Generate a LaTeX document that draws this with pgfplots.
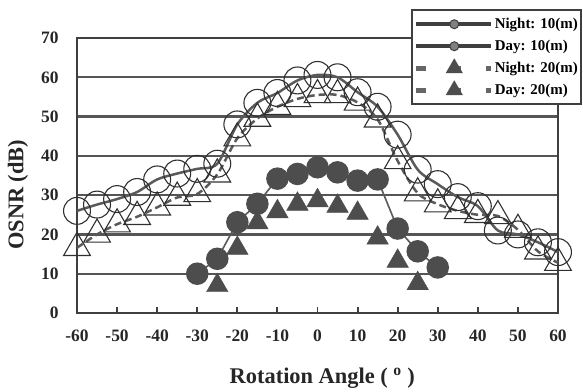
\documentclass[border=0pt]{standalone}
\usepackage{fontspec}
\setmainfont{Liberation Serif}
\usepackage{pgfplots}
\pgfplotsset{compat=1.18}
\definecolor{gridc}{HTML}{555555}
\definecolor{framec}{HTML}{3F3F3F}
\definecolor{fillg}{HTML}{4D4D4D}
\definecolor{lineg}{HTML}{5A5A5A}
\definecolor{edgec}{HTML}{303030}
\begin{document}
\begin{tikzpicture}
\begin{axis}[
  scale only axis, width=481bp, height=275bp,
  xmin=-60, xmax=60, ymin=0, ymax=70,
  xtick={-60,-50,...,60}, ytick={0,10,...,70},
  xtick pos=bottom,
  tick align=inside,
  major tick length=6bp,
  x tick style={line width=2pt, color=framec},
  y tick style={draw=none},
  ymajorgrids, grid style={line width=2.2pt, color=gridc},
  axis line style={line width=2.6pt, color=framec},
  /pgf/number format/assume math mode=true,
  ticklabel style={font=\bfseries\fontsize{17.5}{17.5}\selectfont, color=black!85},
  xticklabel style={yshift=-13bp},
  yticklabel style={xshift=-15bp},
  xlabel={Rotation Angle ( \textsuperscript{o} )},
  ylabel={OSNR (dB)},
  label style={font=\bfseries\fontsize{22.5}{22.5}\selectfont, color=black!85},
  xlabel style={at={(axis description cs:0.51,0)}, anchor=center, yshift=-65bp},
  ylabel style={at={(axis description cs:-0.1227,0.43)}, anchor=center},
  legend image code/.code={\draw[mark repeat=2,mark phase=2,#1] plot coordinates {(0bp,0bp) (38bp,0bp) (75bp,0bp)};},
  legend cell align=left,
  legend style={at={(1.05,1.1055)}, anchor=north east, draw=framec, line width=2.5bp, fill=white,
    font=\bfseries\fontsize{15}{15}\selectfont, inner xsep=2bp, inner ysep=3bp, row sep=0bp,
    nodes={inner xsep=1bp, inner ysep=4bp, text height=11bp, text depth=3bp}},
]
% Night 10 m
\addplot[forget plot, smooth, line width=2.5bp, color=lineg, mark=o, mark size=13.5pt,
  mark options={solid, line width=1.1pt, draw=edgec}] coordinates {
(-60,26) (-55,27.6) (-50,29) (-45,30.8) (-40,34) (-35,35.5) (-30,36.7) (-25,38)
(-20,48) (-15,53.5) (-10,56) (-5,59.2) (0,60.6) (5,60) (10,56.2) (15,52.5)
(20,45.4) (25,36.5) (30,32.8) (35,29.5) (40,27.2) (45,21) (50,20) (55,18) (60,15.5)};
% Night 20 m
\addplot[forget plot, smooth, line width=2.5bp, color=lineg, dash pattern=on 7bp off 4bp, mark=triangle, mark size=15.5pt,
  mark options={solid, line width=1.1pt, draw=edgec}] coordinates {
(-60,16.6) (-55,20) (-50,22.6) (-45,24.5) (-40,26.9) (-35,29.4) (-30,30.3) (-25,35.3)
(-20,44.5) (-15,49.5) (-10,52.5) (-5,54.5) (0,55.5) (5,55.5) (10,53.6) (15,49.3)
(20,38.7) (25,30.5) (30,27.7) (35,26) (40,25) (45,24.7) (50,21.2) (55,15.7) (60,12.8)};
% Day 10 m
\addplot[forget plot, line width=1.6bp, color=lineg, mark=*, mark size=10.5pt,
  mark options={fill=fillg, draw=fillg}] coordinates {
(-30,10) (-25,13.8) (-20,23.1) (-15,27.8) (-10,34.2) (-5,35.4) (0,37.1) (5,35.8)
(10,33.7) (15,34) (20,21.5) (25,15.7) (30,11.6)};
% Day 20 m
\addplot[forget plot, only marks, mark=triangle*, mark size=12.5pt,
  mark options={fill=fillg, draw=fillg}] coordinates {
(-25,7) (-20,16.5) (-15,23) (-10,25.8) (-5,27.7) (0,28.6) (5,27.2) (10,25.4)
(15,19.1) (20,13.2) (25,7.5)};
\addlegendimage{line width=4bp, color=framec, mark=*, mark size=4.5pt, mark options={fill=gray, draw=framec, line width=1pt}}
\addlegendentry{Night: 10(m)}
\addlegendimage{line width=4bp, color=framec, mark=*, mark size=4.5pt, mark options={fill=gray, draw=framec, line width=1pt}}
\addlegendentry{Day: 10(m)}
\addlegendimage{line width=5bp, color=gray!80!black, dash pattern=on 10bp off 25bp, mark=triangle*, mark size=5pt, mark options={solid, fill=fillg, draw=fillg}}
\addlegendentry{Night: 20(m)}
\addlegendimage{line width=5bp, color=gray!80!black, dash pattern=on 10bp off 25bp, mark=triangle*, mark size=5pt, mark options={solid, fill=fillg, draw=fillg}}
\addlegendentry{Day: 20(m)}
\end{axis}
\pgfresetboundingbox
\useasboundingbox ([shift={(-77bp,-79bp)}]current axis.south west) rectangle ++(583bp,392bp);
\end{tikzpicture}
\end{document}
